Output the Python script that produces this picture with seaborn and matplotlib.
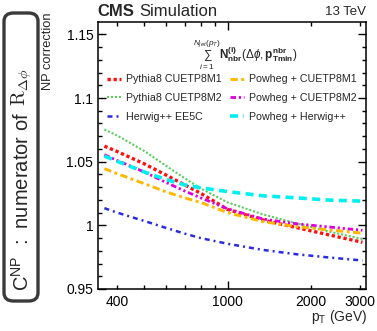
import numpy as np
import pandas as pd
import matplotlib
matplotlib.use("Agg")
import matplotlib.pyplot as plt
import seaborn as sns
from matplotlib.ticker import FixedLocator, FixedFormatter
from matplotlib.patches import FancyBboxPatch

# ---- data ----
pt = [360, 400, 500, 600, 700, 800, 1000, 1340, 1770, 2330, 3060]
pythia_m1 = [1.0622, 1.0580, 1.0484, 1.0395, 1.0318, 1.0252, 1.0125, 1.0042, 0.9982, 0.9924, 0.9867]
pythia_m2 = [1.0753, 1.0706, 1.0585, 1.0468, 1.0370, 1.0290, 1.0180, 1.0086, 1.0016, 0.9950, 0.9893]
herwig_ee5c = [1.0135, 1.0100, 1.0035, 0.9980, 0.9935, 0.9900, 0.9855, 0.9807, 0.9773, 0.9747, 0.9724]
powheg_m1 = [1.0445, 1.0406, 1.0328, 1.0263, 1.0216, 1.0180, 1.0100, 1.0029, 0.9990, 0.9964, 0.9938]
powheg_m2 = [1.0555, 1.0510, 1.0420, 1.0337, 1.0270, 1.0216, 1.0130, 1.0050, 1.0012, 0.9987, 0.9961]
powheg_herwig = [1.0544, 1.0503, 1.0420, 1.0360, 1.0318, 1.0295, 1.0265, 1.0232, 1.0216, 1.0198, 1.0190]

labels = ["Pythia8 CUETP8M1", "Pythia8 CUETP8M2", "Herwig++ EE5C",
          "Powheg + CUETP8M1", "Powheg + CUETP8M2", "Powheg + Herwig++"]
series = [pythia_m1, pythia_m2, herwig_ee5c, powheg_m1, powheg_m2, powheg_herwig]
colors = ["#ff1010", "#5ccc5c", "#2a2ae0", "#ffb800", "#dd00dd", "#00f0f0"]
styles = [(0, (1, 0.8)), (0, (1, 0.9)), (0, (2, 1.6, 0.8, 1.6)),
          (0, (2.5, 1.2, 1, 1.2)), (0, (2, 1, 0.8, 1, 0.8, 1)), (0, (2.2, 1.5))]
widths = [2.4, 1.5, 1.8, 2.1, 2.0, 2.6]

xticks_major = [1000]
xticks_minor = [400, 500, 600, 700, 800, 900, 2000, 3000]
xminor_labels = ["400", "", "", "", "", "", "2000", "3000"]
yticks = [0.95, 1.0, 1.05, 1.1, 1.15]
ytick_labels = ["0.95", "1", "1.05", "1.1", "1.15"]

sns.set_theme(style="ticks")
plt.rcParams["font.family"] = ["Liberation Sans", "DejaVu Sans"]
plt.rcParams["mathtext.fontset"] = "custom"
plt.rcParams["mathtext.rm"] = "Liberation Sans"
plt.rcParams["mathtext.it"] = "Liberation Sans:italic"
plt.rcParams["mathtext.bf"] = "Liberation Sans:bold"

W, H = 377, 331
fig = plt.figure(figsize=(W / 100, H / 100), dpi=100)
ax = fig.add_axes([97.5 / W, 1 - 289 / H, (366 - 97.5) / W, (289 - 22) / H])

for lab, ys, c, ls, lw in zip(labels, series, colors, styles, widths):
    df = pd.DataFrame({"pt": pt, "np": ys})
    sns.lineplot(data=df, x="pt", y="np", ax=ax, color=c, linestyle=ls,
                 linewidth=lw, label=lab)

ax.set_xscale("log")
ax.set_xlim(340, 3150)
ax.set_ylim(0.95, 1.1597)
ax.set_xlabel("")
ax.set_ylabel("")

ax.xaxis.set_major_locator(FixedLocator(xticks_major))
ax.xaxis.set_major_formatter(FixedFormatter(["1000"]))
ax.xaxis.set_minor_locator(FixedLocator(xticks_minor))
ax.xaxis.set_minor_formatter(FixedFormatter(xminor_labels))
ax.yaxis.set_major_locator(FixedLocator(yticks))
ax.yaxis.set_major_formatter(FixedFormatter(ytick_labels))
ax.yaxis.set_minor_locator(FixedLocator(np.round(np.arange(0.95, 1.16, 0.01), 3)))

ax.tick_params(which="both", direction="in", top=True, right=True, colors="black",
               labelsize=10, width=1.0)
ax.tick_params(which="major", length=6, pad=4)
ax.tick_params(which="minor", length=3.2, pad=4)
ax.tick_params(axis="y", which="both", pad=3)
for s in ax.spines.values():
    s.set_color("black")
    s.set_linewidth(1.1)

leg = ax.legend(ncol=2, frameon=False, fontsize=7.7, loc="upper left",
                bbox_to_anchor=((107 - 97.5) / 268.5, (289 - 74.5) / 267),
                borderpad=0, borderaxespad=0, handlelength=1.35,
                handletextpad=0.45, columnspacing=0.75, labelspacing=0.8)

ax.text((245 - 97.5) / 268.5, (289 - 55) / 267,
        r"$\sum_{i=1}^{N_{jet}(p_{T})}\mathbf{N}^{\mathbf{(i)}}_{\mathbf{nbr}}(\Delta\phi,\mathbf{p}^{\mathbf{nbr}}_{\mathbf{Tmin}})$",
        transform=ax.transAxes, ha="center", va="center", fontsize=8.5,
        math_fontfamily="custom")

# header
fig.text(97 / W, 1 - 12 / H, "CMS", fontsize=12, fontweight="bold", ha="left", va="center")
fig.text(139 / W, 1 - 12 / H, "Simulation", fontsize=12, ha="left", va="center")
fig.text(366 / W, 1 - 12 / H, "13 TeV", fontsize=9.5, ha="right", va="center")

# axis titles
fig.text(48 / W, 1 - 51.5 / H, "NP correction", fontsize=9.3, rotation=90,
         ha="center", va="center")
fig.text(367 / W, 1 - 317 / H, r"p$_{\mathrm{T}}$ (GeV)", fontsize=10,
         ha="right", va="center")

# left rounded box label
box = FancyBboxPatch((4 / W, 1 - 301 / H), 34 / W, 288 / H,
                     boxstyle="round,pad=0,rounding_size=0.025",
                     transform=fig.transFigure, fc="white", ec="#3a3a3a", lw=2.4)
fig.patches.append(box)
t1 = fig.text(22 / W, 1 - 291 / H, r"C$^{\mathrm{NP}}$  :  numerator of",
              fontsize=14.5, rotation=90, rotation_mode="anchor",
              ha="left", va="center")
renderer = fig.canvas.get_renderer()
bb = t1.get_window_extent(renderer)
top_px = bb.y1 + 6
fig.text(22 / W, top_px / (H), r"$\mathrm{R}_{\Delta\phi}$",
         fontsize=14.5, rotation=90, rotation_mode="anchor",
         ha="left", va="center", math_fontfamily="cm")

fig.savefig("out.png", dpi=100)
